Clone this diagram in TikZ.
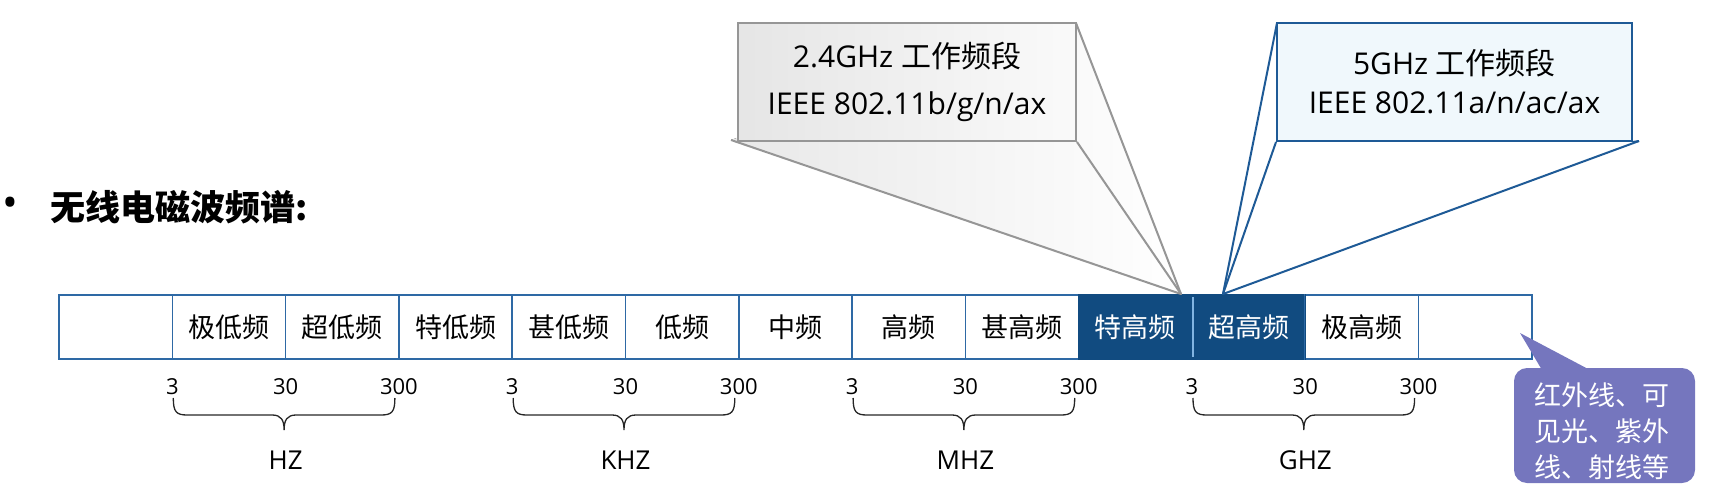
\documentclass[tikz,border=0pt]{standalone}
\usepackage{fontspec}
\setmainfont{Open Sans}
\newfontfamily\cjk{Noto Sans CJK SC}
\usetikzlibrary{calc}
\definecolor{barblue}{RGB}{46,105,165}
\definecolor{darkcell}{RGB}{17,75,128}
\definecolor{sepblue}{RGB}{130,180,225}
\definecolor{calloutgray}{RGB}{150,150,150}
\definecolor{fivefill}{RGB}{240,248,252}
\definecolor{fivestroke}{RGB}{30,90,150}
\definecolor{purp}{RGB}{117,118,190}
\tikzset{
  cell/.style={draw=barblue, line width=1.6pt, minimum width=113.3pt, minimum height=64.3pt,
    inner sep=0pt, font=\cjk\fontsize{27}{30}\selectfont},
  darkcellst/.style={cell, draw=darkcell, fill=darkcell, text=white},
  numlab/.style={font=\fontsize{22}{24}\selectfont, inner sep=0pt},
  unitlab/.style={font=\fontsize{26}{30}\selectfont, inner sep=0pt},
  bracest/.style={draw=black!85, line width=1.3pt},
  graybox/.style={draw=calloutgray, line width=2pt, left color=black!10, right color=black!2,
    minimum width=338pt, minimum height=118pt, inner sep=0pt, align=center,
    font=\fontsize{30}{47}\selectfont},
  bluebox/.style={draw=fivestroke, line width=2pt, fill=fivefill,
    minimum width=355pt, minimum height=118pt, inner sep=0pt, align=center,
    font=\fontsize{30}{39}\selectfont},
}
\begin{document}
\begin{tikzpicture}[x=1pt,y=-1pt]
\useasboundingbox (0,0) rectangle (1709,501);

% title
\node[inner sep=0pt, font=\fontsize{42}{42}\selectfont] (bullet) at (10,207) {•};
\node[anchor=west, inner sep=0pt, font=\cjk\bfseries\fontsize{35}{40}\selectfont] (title) at (50,207) {无线电磁波频谱:};

% bar cells
\foreach \i/\t in {1/{},2/极低频,3/超低频,4/特低频,5/甚低频,6/低频,7/中频,8/高频,9/甚高频,12/极高频,13/{}}{
  \node[cell] (c\i) at ({59+(\i-0.5)*113.3},327) {\t};
}
\foreach \i/\t in {10/特高频,11/超高频}{
  \node[darkcellst] (c\i) at ({59+(\i-0.5)*113.3},327) {\t};
}
\draw[sepblue, line width=1.4pt] ($(c10.north east)+(0,3)$) -- ($(c10.south east)+(0,-3)$);
\draw[barblue, line width=1.6pt] (c12.north west) -- (c12.south west);

% numbers
\foreach \k/\v in {1/3,2/30,3/300,4/3,5/30,6/300,7/3,8/30,9/300,10/3,11/30,12/300}{
  \node[numlab] (n\k) at ({59+\k*113.3},387) {\v};
}

% braces
\foreach \k/\u in {1/HZ,4/KHZ,7/MHZ,10/GHZ}{
  \pgfmathsetmacro{\xa}{59+\k*113.3+1}
  \pgfmathsetmacro{\xb}{59+(\k+2)*113.3-4}
  \pgfmathsetmacro{\xm}{(\xa+\xb)/2}
  \draw[bracest] (\xa,398) .. controls (\xa,412) and ({\xa+3},415) .. ({\xa+14},415)
     -- ({\xm-12},415) .. controls ({\xm-3},415) and (\xm,420) .. (\xm,430)
     .. controls (\xm,420) and ({\xm+3},415) .. ({\xm+12},415)
     -- ({\xb-14},415) .. controls ({\xb-3},415) and (\xb,412) .. (\xb,398);
  \node[unitlab] (u\k) at ({59+(\k+1)*113.3},460) {\u};
}

% 2.4 GHz callout
\coordinate (tipA) at (1181,294);
\fill[left color=black!9, right color=white] (731,140) -- (tipA) -- (1076,23) -- cycle;
\draw[calloutgray, line width=2pt, line join=round] (731,140) -- (tipA) -- (1076,23);
\node[graybox] (boxA) at (907,82) {2.4GHz {\cjk 工作频段}\\IEEE 802.11b/g/n/ax};
\draw[calloutgray, line width=2pt] (boxA.south east) -- (tipA);

% 5 GHz callout
\coordinate (tipB) at (1223,294);
\coordinate (tailB) at (1639,141);
\draw[fivestroke, line width=2pt, line join=round] (1277,23) -- (tipB) -- (tailB);
\node[bluebox] (boxB) at (1454.5,82) {5GHz {\cjk 工作频段}\\IEEE 802.11a/n/ac/ax};
\draw[fivestroke, line width=2pt] (boxB.south west) -- (tipB);
\draw[fivestroke, line width=2pt] (boxB.south east) -- (tailB);

% purple note
\coordinate (tipC) at (1520,333);
\fill[purp] (1542,370) -- (tipC) -- (1590,370) -- cycle;
\node[fill=purp, rounded corners=13pt, minimum width=181pt, minimum height=115pt, inner sep=0pt] (note) at (1604.5,425.5) {};
\node[text=white, align=center, inner sep=0pt, font=\cjk\fontsize{27}{36}\selectfont] (notetext) at (1602,431) {红外线、可\\见光、紫外\\线、射线等};
\end{tikzpicture}
\end{document}
